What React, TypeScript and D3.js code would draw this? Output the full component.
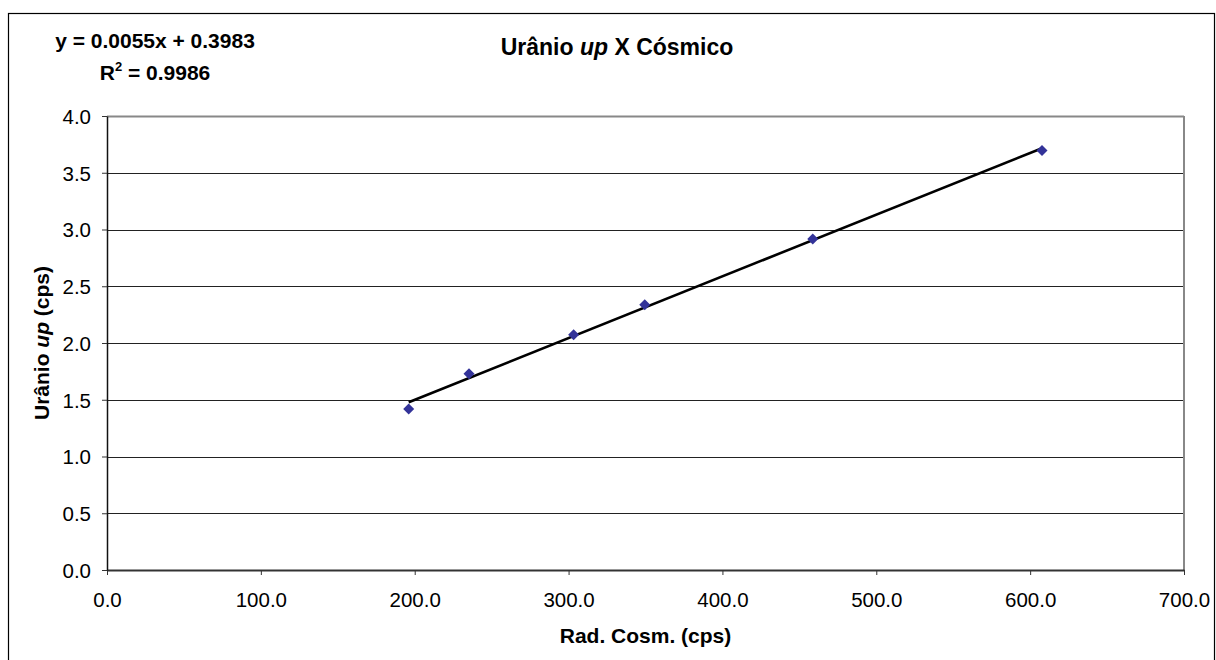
import React, { useEffect, useRef } from 'react';
import * as d3 from 'd3';

// values
const cosmic = [196.1, 235.3, 303.3, 349.5, 458.7, 607.7];
const uranium = [1.418, 1.729, 2.072, 2.336, 2.916, 3.695];
const xTicks = [0, 100, 200, 300, 400, 500, 600, 700];
const yTicks = [0, 0.5, 1, 1.5, 2, 2.5, 3, 3.5, 4];
const equationText = 'y = 0.0055x + 0.3983';
const r2Value = '0.9986';

const FONT = '"Liberation Sans", Arial, sans-serif';

const App = () => {
  const svgRef = useRef<SVGSVGElement>(null);

  useEffect(() => {
    const svg = d3.select(svgRef.current);
    svg.selectAll('*').remove();

    const width = 1216;
    const height = 660;
    const margin = { top: 116, right: 32, bottom: 90, left: 107 };

    const x = d3.scaleLinear().domain([0, 700]).range([margin.left, width - margin.right]);
    const y = d3.scaleLinear().domain([0, 4]).range([height - margin.bottom, margin.top]);

    // chart outer border
    svg
      .append('rect')
      .attr('x', 8.5)
      .attr('y', 13.5)
      .attr('width', 1206)
      .attr('height', 700)
      .attr('fill', 'white')
      .attr('stroke', '#000')
      .attr('stroke-width', 1.2);

    // gridlines
    svg
      .append('g')
      .selectAll('line')
      .data(yTicks.filter((d) => d > 0))
      .join('line')
      .attr('x1', x(0))
      .attr('x2', x(700))
      .attr('y1', (d) => Math.round(y(d)) + 0.5)
      .attr('y2', (d) => Math.round(y(d)) + 0.5)
      .attr('stroke', (d) => (d === 4 ? '#888' : '#222'))
      .attr('stroke-width', (d) => (d === 4 ? 2 : 1));

    // plot area right border
    svg
      .append('line')
      .attr('x1', x(700))
      .attr('x2', x(700))
      .attr('y1', y(4))
      .attr('y2', y(0))
      .attr('stroke', '#888')
      .attr('stroke-width', 2);

    const xAxis = svg
      .append('g')
      .attr('transform', `translate(0,${y(0)})`)
      .call(
        d3
          .axisBottom(x)
          .tickValues(xTicks)
          .tickSize(5)
          .tickSizeOuter(0)
          .tickFormat((d) => d3.format('.1f')(d as number))
      );
    xAxis.select('.domain').attr('stroke', '#333').attr('stroke-width', 2);
    xAxis.selectAll('.tick line').attr('stroke', '#333');
    xAxis
      .selectAll('.tick text')
      .attr('font-family', FONT)
      .attr('font-size', 20.5)
      .attr('fill', '#000')
      .attr('dy', 0)
      .attr('y', 37);

    const yAxis = svg
      .append('g')
      .attr('transform', `translate(${x(0)},0)`)
      .call(
        d3
          .axisLeft(y)
          .tickValues(yTicks)
          .tickSize(5)
          .tickSizeOuter(0)
          .tickFormat((d) => d3.format('.1f')(d as number))
      );
    yAxis.select('.domain').attr('stroke', '#111').attr('stroke-width', 1.5);
    yAxis.selectAll('.tick line').attr('stroke', '#333');
    yAxis
      .selectAll('.tick text')
      .attr('font-family', FONT)
      .attr('font-size', 20.5)
      .attr('fill', '#000')
      .attr('x', -16)
      .attr('dy', '0.36em');

    // linear trendline (least squares over the points)
    const mx = d3.mean(cosmic) as number;
    const my = d3.mean(uranium) as number;
    let sxy = 0;
    let sxx = 0;
    cosmic.forEach((cx, i) => {
      sxy += (cx - mx) * (uranium[i] - my);
      sxx += (cx - mx) * (cx - mx);
    });
    const slope = sxy / sxx;
    const intercept = my - slope * mx;
    const xMin = d3.min(cosmic) as number;
    const xMax = d3.max(cosmic) as number;

    svg
      .append('path')
      .datum([xMin, xMax])
      .attr('fill', 'none')
      .attr('stroke', '#000')
      .attr('stroke-width', 2.6)
      .attr(
        'd',
        d3
          .line<number>()
          .x((d) => x(d))
          .y((d) => y(slope * d + intercept))
      );

    // markers
    const pts = cosmic.map((cx, i) => ({ cx, cy: uranium[i] }));
    svg
      .append('g')
      .selectAll('path')
      .data(pts)
      .join('path')
      .attr('transform', (d) => `translate(${x(d.cx)},${y(d.cy)})`)
      .attr('d', 'M0,-5.5L5.5,0L0,5.5L-5.5,0Z')
      .attr('fill', '#333399');

    // title
    const title = svg
      .append('text')
      .attr('x', 617)
      .attr('y', 55)
      .attr('text-anchor', 'middle')
      .attr('font-family', FONT)
      .attr('font-weight', 'bold')
      .attr('font-size', 23);
    title.append('tspan').text('Urânio ');
    title.append('tspan').attr('font-style', 'italic').text('up');
    title.append('tspan').text(' X Cósmico');

    // equation label
    svg
      .append('text')
      .attr('x', 155)
      .attr('y', 48)
      .attr('text-anchor', 'middle')
      .attr('font-family', FONT)
      .attr('font-weight', 'bold')
      .attr('font-size', 21)
      .text(equationText);
    const r2 = svg
      .append('text')
      .attr('x', 155)
      .attr('y', 80)
      .attr('text-anchor', 'middle')
      .attr('font-family', FONT)
      .attr('font-weight', 'bold')
      .attr('font-size', 21);
    r2.append('tspan').text('R');
    r2.append('tspan').attr('font-size', 13).attr('dy', -9).text('2');
    r2.append('tspan').attr('dy', 9).text(` = ${r2Value}`);

    // axis titles
    svg
      .append('text')
      .attr('x', (x(0) + x(700)) / 2)
      .attr('y', 643)
      .attr('text-anchor', 'middle')
      .attr('font-family', FONT)
      .attr('font-weight', 'bold')
      .attr('font-size', 21)
      .text('Rad. Cosm. (cps)');

    const yTitle = svg
      .append('text')
      .attr('transform', `translate(49,${(y(0) + y(4)) / 2}) rotate(-90)`)
      .attr('text-anchor', 'middle')
      .attr('font-family', FONT)
      .attr('font-weight', 'bold')
      .attr('font-size', 21);
    yTitle.append('tspan').text('Urânio ');
    yTitle.append('tspan').attr('font-style', 'italic').text('up');
    yTitle.append('tspan').text(' (cps)');
  }, []);

  return (
    <svg
      ref={svgRef}
      width={1216}
      height={660}
      style={{ position: 'absolute', left: 0, top: 0, background: 'white' }}
    />
  );
};

export default App;
